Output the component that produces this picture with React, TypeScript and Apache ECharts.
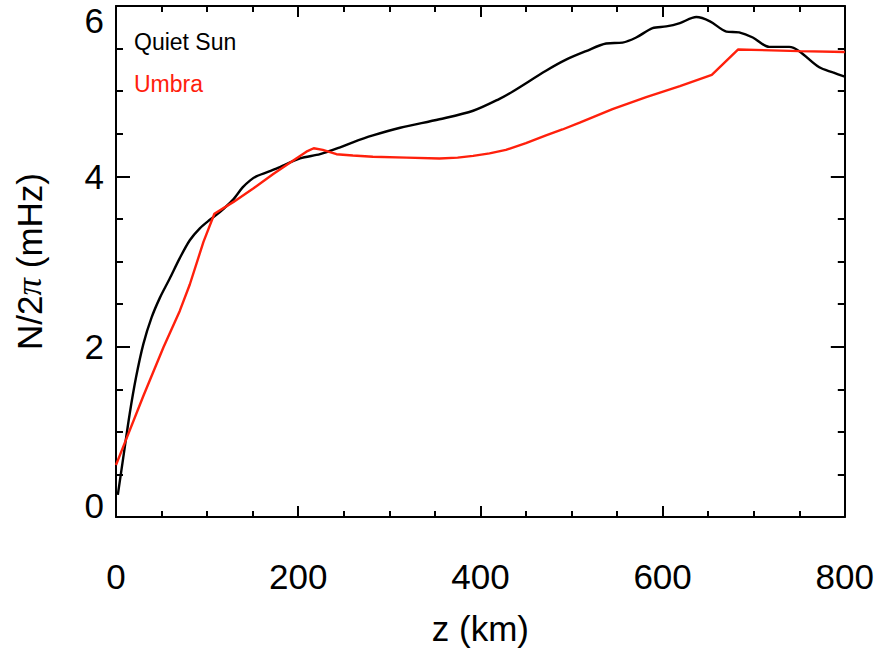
import React, { useEffect, useRef } from "react";
import * as echarts from "echarts";

// Quiet Sun: height z (km) and N/2π (mHz)
const quietZ = [2, 8, 15, 22, 30, 39, 48, 59, 70, 81, 92, 103, 114, 128, 139, 147, 154, 176, 202, 224, 246, 260, 282, 312, 355, 392, 421, 436, 472, 494, 516, 538, 556, 571, 589, 604, 619, 637, 652, 670, 684, 699, 717, 739, 750, 772, 787, 800];
const quietN = [0.26, 0.70, 1.21, 1.64, 2.03, 2.34, 2.57, 2.80, 3.04, 3.25, 3.39, 3.49, 3.58, 3.72, 3.87, 3.95, 4.00, 4.09, 4.21, 4.26, 4.34, 4.40, 4.48, 4.57, 4.67, 4.77, 4.91, 5.00, 5.24, 5.37, 5.47, 5.56, 5.57, 5.63, 5.74, 5.76, 5.80, 5.87, 5.82, 5.70, 5.69, 5.63, 5.52, 5.52, 5.47, 5.28, 5.22, 5.17];

// Umbra
const umbraZ = [0, 7, 30, 52, 70, 81, 96, 108, 129, 151, 173, 195, 209, 217, 227, 242, 260, 282, 319, 355, 375, 392, 410, 428, 450, 472, 490, 509, 545, 582, 619, 654, 683, 750, 800];
const umbraN = [0.61, 0.80, 1.42, 1.99, 2.42, 2.73, 3.23, 3.56, 3.70, 3.86, 4.03, 4.19, 4.29, 4.33, 4.31, 4.26, 4.245, 4.23, 4.22, 4.21, 4.22, 4.24, 4.27, 4.31, 4.39, 4.48, 4.55, 4.63, 4.79, 4.93, 5.06, 5.19, 5.49, 5.47, 5.46];

const seriesNames = ["Quiet Sun", "Umbra"];
const seriesColors = ["#000000", "#ff200c"];

const xTicks = { min: 0, max: 800, interval: 200 };
const yTicks = { min: 0, max: 6, interval: 2 };

const FONT = "Liberation Sans";
const FS = 35;

export default function App() {
  const ref = useRef<HTMLDivElement>(null);
  useEffect(() => {
    if (!ref.current) return;
    const chart = echarts.init(ref.current, null, { renderer: "svg" });
    const axisLine = { show: true, onZero: false, lineStyle: { color: "#000", width: 2 } };
    const xTick = { show: true, inside: true, length: 11, lineStyle: { color: "#000", width: 2 } };
    const xMinor = { show: true, splitNumber: 4, length: 6, lineStyle: { color: "#000", width: 2 } };
    const yTick = { show: true, inside: true, length: 14, lineStyle: { color: "#000", width: 2 } };
    const yMinor = { show: true, splitNumber: 4, length: 7, lineStyle: { color: "#000", width: 2 } };
    const labelRich = {
      n: { fontSize: FS, fontFamily: FONT, color: "#000" },
      lo: { fontSize: FS, fontFamily: FONT, color: "#000", padding: [0, 0, 24, 0] },
      hi: { fontSize: FS, fontFamily: FONT, color: "#000", padding: [28, 0, 0, 0] },
    };
    chart.setOption({
      animation: false,
      backgroundColor: "#fff",
      grid: { left: 116, right: 31, top: 6, bottom: 130, containLabel: false },
      legend: {
        orient: "vertical",
        left: 124,
        top: 25,
        itemWidth: 0,
        itemHeight: 0,
        itemGap: 19,
        selectedMode: false,
        data: seriesNames.map((n, i) => ({
          name: n,
          icon: "rect",
          itemStyle: { opacity: 0 },
          textStyle: { color: seriesColors[i], fontSize: 23, fontFamily: FONT },
        })),
      },
      xAxis: [
        {
          type: "value",
          position: "bottom",
          ...xTicks,
          axisLine,
          axisTick: xTick,
          minorTick: xMinor,
          splitLine: { show: false },
          minorSplitLine: { show: false },
          axisLabel: { fontSize: FS, fontFamily: FONT, color: "#000", margin: 42 },
          name: "z (km)",
          nameLocation: "middle",
          nameGap: 94,
          nameTextStyle: { fontSize: FS, fontFamily: FONT, color: "#000" },
        },
        {
          type: "value",
          position: "top",
          ...xTicks,
          axisLine,
          axisTick: xTick,
          minorTick: xMinor,
          splitLine: { show: false },
          axisLabel: { show: false },
        },
      ],
      yAxis: [
        {
          type: "value",
          position: "left",
          ...yTicks,
          axisLine,
          axisTick: yTick,
          minorTick: yMinor,
          splitLine: { show: false },
          axisLabel: {
            margin: 12,
            formatter: (v: number) => (v === 0 ? "{lo|0}" : v === 6 ? "{hi|6}" : "{n|" + v + "}"),
            rich: labelRich,
          },
          name: "{a|N/2}{p|π}{a| (mHz)}",
          nameLocation: "middle",
          nameGap: 69,
          nameTextStyle: {
            rich: {
              a: { fontSize: FS, fontFamily: FONT, color: "#000" },
              p: { fontSize: FS, fontFamily: "Liberation Serif", fontStyle: "italic", color: "#000" },
            },
          },
        },
        {
          type: "value",
          position: "right",
          ...yTicks,
          axisLine,
          axisTick: yTick,
          minorTick: yMinor,
          splitLine: { show: false },
          axisLabel: { show: false },
        },
      ],
      series: [
        {
          name: seriesNames[0],
          type: "line",
          xAxisIndex: 0,
          yAxisIndex: 0,
          data: quietZ.map((z, i) => [z, quietN[i]]),
          smooth: 0.3,
          showSymbol: false,
          lineStyle: { color: seriesColors[0], width: 2.4 },
          itemStyle: { color: seriesColors[0] },
        },
        {
          name: seriesNames[1],
          type: "line",
          xAxisIndex: 0,
          yAxisIndex: 0,
          data: umbraZ.map((z, i) => [z, umbraN[i]]),
          smooth: false,
          showSymbol: false,
          lineStyle: { color: seriesColors[1], width: 2.4 },
          itemStyle: { color: seriesColors[1] },
        },
      ],
    });
    return () => chart.dispose();
  }, []);
  return (
    <div
      ref={ref}
      style={{ position: "fixed", left: 0, top: 0, width: 877, height: 651, background: "#fff" }}
    />
  );
}
